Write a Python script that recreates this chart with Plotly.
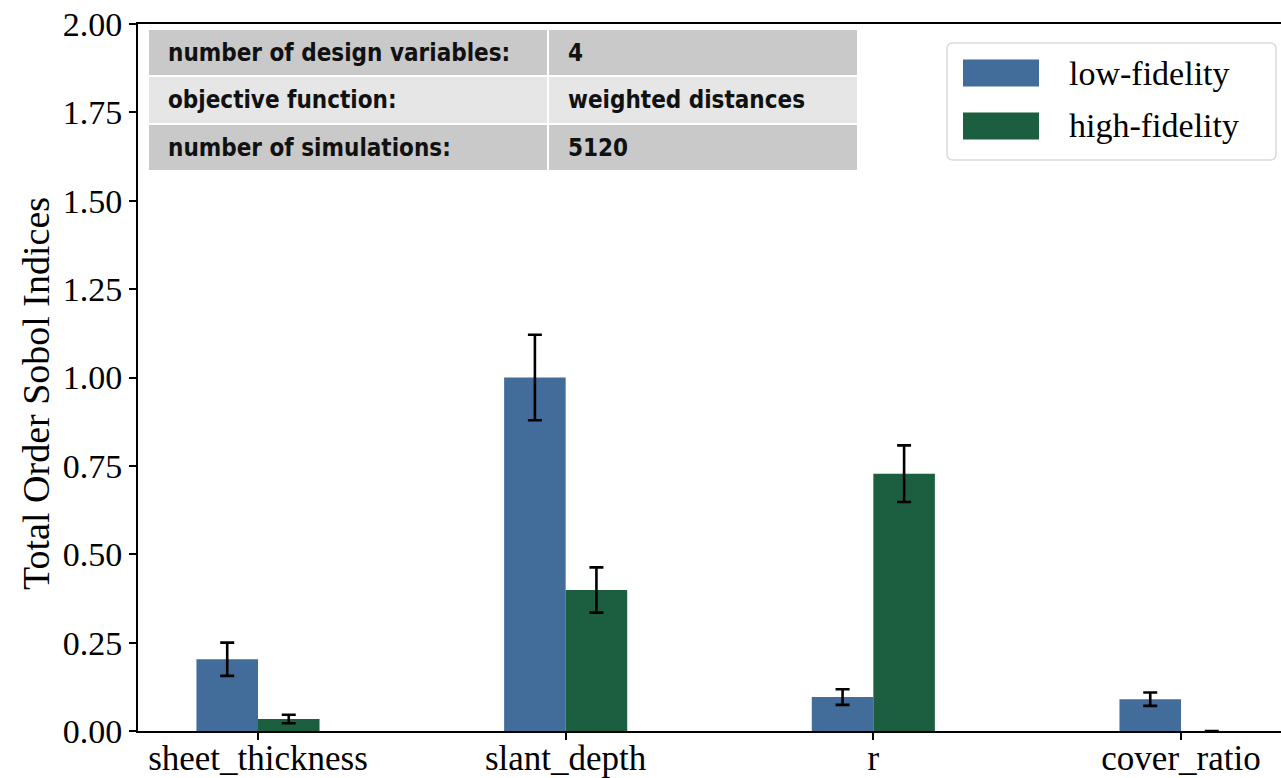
import plotly.graph_objects as go

categories = ["sheet_thickness", "slant_depth", "r", "cover_ratio"]
series_names = ["low-fidelity", "high-fidelity"]
low_values = [0.203, 1.000, 0.096, 0.090]
low_errors = [0.047, 0.121, 0.022, 0.019]
high_values = [0.034, 0.399, 0.728, 0.0]
high_errors = [0.012, 0.064, 0.080, 0.0]
yticks = [0.0, 0.25, 0.5, 0.75, 1.0, 1.25, 1.5, 1.75, 2.0]
table_rows = [
    ["number of design variables:", "4"],
    ["objective function:", "weighted distances"],
    ["number of simulations:", "5120"],
]

colors = ["#426C99", "#1C5E40"]
W, H = 1281, 778
ML, MR, MT, MB = 138, 0, 24, 47
PW, PH = W - ML - MR, H - MT - MB
SERIF = "Liberation Serif, Times New Roman, serif"


def px(x):
    return (x - ML) / PW


def py(y):
    return 1 - (y - MT) / PH


def rounded_rect(x0, y0, x1, y1, r):
    pts = [
        f"M {px(x0 + r)} {py(y0)}",
        f"L {px(x1 - r)} {py(y0)}",
        f"Q {px(x1)} {py(y0)} {px(x1)} {py(y0 + r)}",
        f"L {px(x1)} {py(y1 - r)}",
        f"Q {px(x1)} {py(y1)} {px(x1 - r)} {py(y1)}",
        f"L {px(x0 + r)} {py(y1)}",
        f"Q {px(x0)} {py(y1)} {px(x0)} {py(y1 - r)}",
        f"L {px(x0)} {py(y0 + r)}",
        f"Q {px(x0)} {py(y0)} {px(x0 + r)} {py(y0)}",
        "Z",
    ]
    return " ".join(pts)


fig = go.Figure()
for name, vals, errs, col in zip(series_names, [low_values, high_values],
                                 [low_errors, high_errors], colors):
    fig.add_trace(go.Bar(
        x=categories, y=vals, name=name, marker=dict(color=col, line=dict(width=0)),
        error_y=dict(type="data", array=errs, visible=True, color="black",
                     thickness=2.6, width=7),
        showlegend=False,
    ))

shapes = []
annotations = []

# table
row_fills = ["#C9C9C9", "#E6E6E6", "#C9C9C9"]
col_edges = [(148, 548), (548, 858)]
row_edges = [(29, 76), (76, 124), (124, 171)]
for ri, row in enumerate(table_rows):
    for ci, txt in enumerate(row):
        x0, x1 = col_edges[ci]
        y0, y1 = row_edges[ri]
        shapes.append(dict(type="rect", xref="paper", yref="paper",
                           x0=px(x0), x1=px(x1), y0=py(y1), y1=py(y0),
                           fillcolor=row_fills[ri], line=dict(color="white", width=2),
                           layer="above"))
        annotations.append(dict(xref="paper", yref="paper", x=px(x0 + 18), y=py((y0 + y1) / 2),
                                text="<b>%s</b>" % txt, showarrow=False,
                                xanchor="left", yanchor="middle",
                                font=dict(family="DejaVu Sans Condensed, DejaVu Sans", size=24,
                                          color="#111111")))

# legend box
shapes.append(dict(type="path", xref="paper", yref="paper",
                   path=rounded_rect(947, 43, 1276, 160, 6),
                   fillcolor="rgba(255,255,255,0.85)",
                   line=dict(color="#DADADA", width=1.5), layer="above"))
for i, (name, col) in enumerate(zip(series_names, colors)):
    cy = 73 + i * 53
    shapes.append(dict(type="rect", xref="paper", yref="paper",
                       x0=px(963), x1=px(1039), y0=py(cy + 13.5), y1=py(cy - 13.5),
                       fillcolor=col, line=dict(width=0), layer="above"))
    annotations.append(dict(xref="paper", yref="paper", x=px(1067), y=py(cy),
                            text=name, showarrow=False, xanchor="left", yanchor="middle",
                            font=dict(family=SERIF, size=34, color="black")))

# y-axis title
annotations.append(dict(xref="paper", yref="paper", x=px(36), y=py(394),
                        text="Total Order Sobol Indices", showarrow=False, textangle=-90,
                        xanchor="center", yanchor="middle",
                        font=dict(family=SERIF, size=38, color="black")))

fig.update_layout(
    width=W, height=H,
    margin=dict(l=ML, r=MR, t=MT, b=MB, pad=0),
    paper_bgcolor="white", plot_bgcolor="white",
    barmode="group", bargap=0.6, bargroupgap=0,
    shapes=shapes, annotations=annotations,
    font=dict(family=SERIF, size=34, color="black"),
    xaxis=dict(range=[-0.39, 3.325], showline=True, linecolor="black", linewidth=2,
               mirror=True, ticks="outside", ticklen=7, tickwidth=1.6, tickcolor="black",
               showgrid=False, zeroline=False, automargin=False,
               ticklabelstandoff=-12,
               tickfont=dict(family=SERIF, size=35, color="black")),
    yaxis=dict(range=[0, 2.0], tickvals=yticks, ticktext=["%.2f" % v for v in yticks],
               showline=True, linecolor="black", linewidth=2, mirror=False,
               ticks="outside", ticklen=7, tickwidth=1.6, tickcolor="black",
               showgrid=False, zeroline=False, automargin=False,
               tickfont=dict(family=SERIF, size=34, color="black")),
)

fig.write_html("out.html", config={"displayModeBar": False},
               post_script="document.body.style.margin='0';document.body.style.overflow='hidden';")
